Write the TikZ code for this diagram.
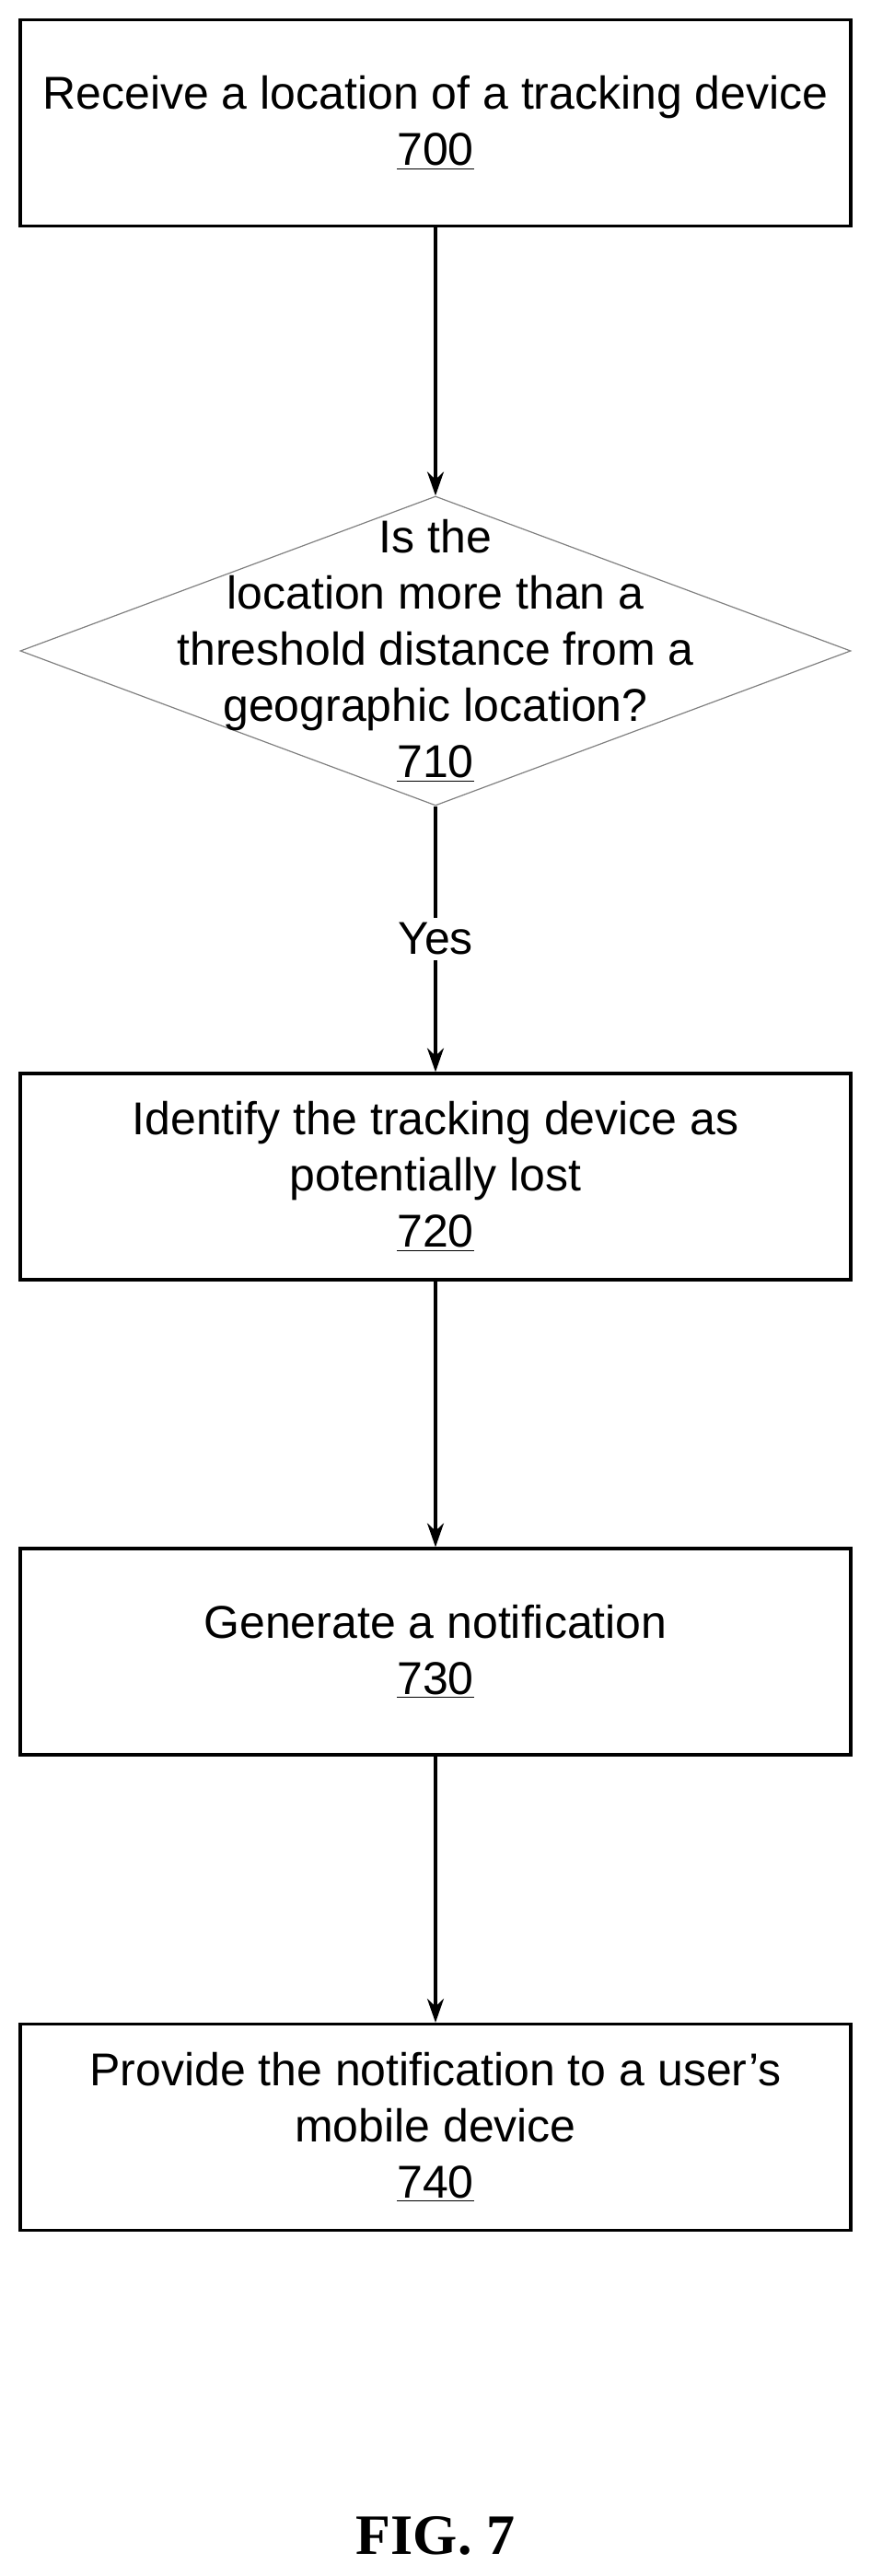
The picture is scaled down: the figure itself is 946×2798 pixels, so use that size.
\documentclass[tikz,border=0pt]{standalone}
\usepackage{fontspec}
\setmainfont{Liberation Sans}
\usetikzlibrary{shapes.geometric,arrows.meta}
\begin{document}
\begin{tikzpicture}[x=0.5pt,y=-0.5pt,
  box/.style={draw,line width=1.6pt,minimum width=451pt,minimum height=112pt,inner sep=0pt},
  txt/.style={align=center,font=\fontsize{25}{30.5}\selectfont},
  arr/.style={-{Stealth[length=13pt,width=9pt]},line width=1.6pt}]
\useasboundingbox (0,0) rectangle (946,2798);
\node[box] (b700) at (473,133.5) {};
\node[txt] (t700) at (473,133.5) {Receive a location of a tracking device\\\underline{700}};
\node[draw=gray,line width=0.6pt,diamond,minimum width=451pt,minimum height=168pt,inner sep=0pt] (d710) at (473,707) {};
\node[txt] (t710) at (473,707) {Is the\\location more than a\\threshold distance from a\\geographic location?\\\underline{710}};
\node[box] (b720) at (473,1278) {};
\node[txt] (t720) at (473,1278) {Identify the tracking device as\\potentially lost\\\underline{720}};
\node[box] (b730) at (473,1794) {};
\node[txt] (t730) at (473,1794) {Generate a notification\\\underline{730}};
\node[box] (b740) at (473,2310.5) {};
\node[txt] (t740) at (473,2310.5) {Provide the notification to a user’s\\mobile device\\\underline{740}};
\node[font=\fontsize{31}{34}\selectfont\bfseries\fontspec{Liberation Serif}] (fig) at (473,2754) {FIG. 7};
\draw[arr] (b700.south) -- (d710.north);
\draw[arr] (d710.south) -- node[fill=white,txt,inner sep=3pt] (yes) {Yes} (b720.north);
\draw[arr] (b720.south) -- (b730.north);
\draw[arr] (b730.south) -- (b740.north);
\end{tikzpicture}
\end{document}
